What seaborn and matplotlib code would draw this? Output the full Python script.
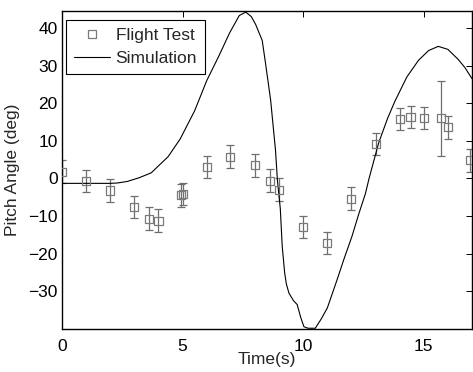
import numpy as np
import pandas as pd
import matplotlib
matplotlib.use("Agg")
import matplotlib.pyplot as plt
from matplotlib.lines import Line2D
import seaborn as sns

# Flight test data
t_test = [0.0, 1.0, 2.0, 3.0, 3.62, 4.0, 4.93, 5.03, 6.0, 6.96, 8.0, 8.62, 8.98,
          10.0, 11.0, 12.0, 13.0, 14.0, 14.45, 15.0, 15.72, 16.0, 16.92]
pitch_test = [1.8, -0.7, -3.2, -7.6, -10.7, -11.2, -4.5, -4.1, 3.0, 5.8, 3.5, -0.6, -3.0,
              -12.9, -17.2, -5.4, 9.2, 15.8, 16.3, 16.1, 16.0, 13.6, 4.8]
err_test = [3.0, 3.0, 3.0, 3.0, 3.0, 3.0, 3.0, 3.0, 3.0, 3.0, 3.0, 3.0, 3.0,
            3.0, 3.0, 3.0, 3.0, 3.0, 3.0, 3.0, 9.9, 3.0, 3.0]

# Simulation curve
t_sim = [0.0, 1.0, 2.0, 2.3, 2.7, 3.2, 3.7, 4.4, 4.9, 5.5, 6.0, 6.5, 6.95, 7.35, 7.62,
         7.85, 8.03, 8.3, 8.44, 8.65, 8.85, 8.93, 9.05, 9.13, 9.23, 9.3, 9.41, 9.6,
         9.75, 9.9, 10.03, 10.2, 10.5, 10.75, 11.0, 11.4, 11.68, 12.02, 12.3, 12.58,
         12.73, 13.13, 13.5, 13.8, 14.3, 14.78, 15.2, 15.6, 16.0, 16.43, 16.7, 17.0]
pitch_sim = [-1.3, -1.3, -1.3, -1.2, -0.8, 0.2, 1.5, 5.8, 10.5, 18.0, 26.0, 32.5, 38.7, 43.3, 44.2,
             43.0, 40.9, 36.7, 30.5, 20.8, 7.6, -0.4, -8.0, -18.0, -25.0, -28.0, -30.5, -32.5,
             -33.5, -37.0, -39.4, -39.8, -39.8, -37.3, -34.4, -27.0, -21.6, -15.4, -9.5, -4.0,
             0.0, 9.5, 16.0, 20.5, 27.0, 31.4, 34.0, 35.1, 34.3, 31.6, 29.5, 26.5]

xticks = [0, 5, 10, 15]
yticks = [-30, -20, -10, 0, 10, 20, 30, 40]

FS = 12.5

sns.set_style("white")
plt.rcParams['font.family'] = ['Liberation Sans', 'DejaVu Sans']
plt.rcParams['font.size'] = FS

fig = plt.figure(figsize=(4.73, 3.72), dpi=100)
ax = fig.add_axes([62/473, 1 - 329/372, (473 - 62)/473 - 0.002, (329 - 11)/372])

sim_df = pd.DataFrame({"t": t_sim, "pitch": pitch_sim})
sns.lineplot(data=sim_df, x="t", y="pitch", ax=ax, color="black", linewidth=0.8,
             sort=False, estimator=None, zorder=3)

ax.errorbar(t_test, pitch_test, yerr=err_test, fmt='none', ecolor='#6e6e6e',
            elinewidth=0.9, capsize=3.2, capthick=0.9, zorder=2)
test_df = pd.DataFrame({"t": t_test, "pitch": pitch_test})
sns.scatterplot(data=test_df, x="t", y="pitch", ax=ax, marker='s', s=34,
                facecolor='none', edgecolor='#7a7a7a', linewidth=0.9, zorder=4)

ax.set_xlim(0, 17)
ax.set_ylim(-40, 44.5)
ax.set_xticks(xticks)
ax.set_yticks(yticks)
ax.tick_params(direction='in', length=4, width=0.7, top=True, right=True,
               labelsize=FS, colors='black', pad=3)
ax.tick_params(axis='x', pad=7)
for sp in ax.spines.values():
    sp.set_color('black')
    sp.set_linewidth(1.0)
    sp.set_visible(True)

ax.set_xlabel("Time(s)", fontsize=FS, labelpad=-1)
ax.set_ylabel("Pitch Angle (deg)", fontsize=FS, labelpad=6)

handles = [Line2D([], [], marker='s', linestyle='none', markerfacecolor='none',
                  markeredgecolor='#7a7a7a', markersize=5.5, markeredgewidth=0.9),
           Line2D([], [], color='black', linewidth=0.8)]
leg = ax.legend(handles, ["Flight Test", "Simulation"], loc='upper left',
                bbox_to_anchor=(0.01, 0.972), fancybox=False, framealpha=1,
                edgecolor='black', fontsize=FS, handlelength=2.1,
                borderpad=0.45, labelspacing=0.45, handletextpad=0.3,
                borderaxespad=0)
leg.get_frame().set_linewidth(0.8)

fig.savefig("out.png", dpi=100)
